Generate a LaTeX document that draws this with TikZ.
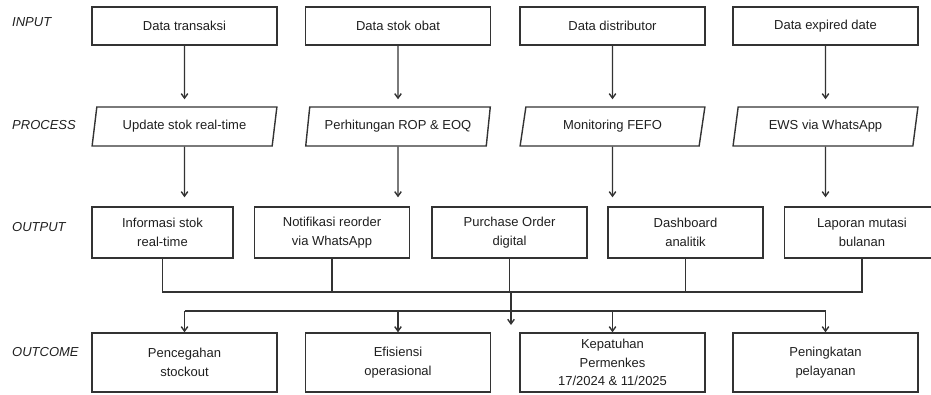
\documentclass[tikz,border=0pt]{standalone}
\usepackage{fontspec}
\setmainfont{Liberation Sans}
\usetikzlibrary{arrows.meta,shapes.geometric}

\begin{document}
\begin{tikzpicture}[x=1pt, y=-1pt, >={Straight Barb[length=4.5pt,width=6.5pt]},
  box/.style={rectangle, draw=black!80, line width=1.4pt, align=center, inner sep=2pt, font=\fontsize{13}{18.5}\selectfont, text=black!88},
  inbox/.style={box, minimum width=185pt, minimum height=38pt},
  proc/.style={box, trapezium, trapezium left angle=78, trapezium right angle=102, trapezium stretches=true, minimum width=185pt, minimum height=39pt},
  outbox/.style={box, minimum width=155pt, minimum height=51pt},
  res/.style={box, minimum width=185pt, minimum height=59pt},
  tag/.style={anchor=west, inner sep=0pt, font=\fontsize{13}{15}\selectfont\itshape, text=black!88},
  edge/.style={->, line width=1.4pt, draw=black!80},
  wire/.style={line width=1.4pt, draw=black!80}
]
\clip (0,0) rectangle (931,394);
\node[tag] (tIn) at (12,22) {INPUT};
\node[tag] (tPr) at (12,125) {PROCESS};
\node[tag] (tOu) at (12,227) {OUTPUT};
\node[tag] (tOc) at (12,352) {OUTCOME};
\node[inbox] (in1) at (184.5,26) {Data transaksi};
\node[inbox] (in2) at (398,26) {Data stok obat};
\node[inbox] (in3) at (612.5,26) {Data distributor};
\node[inbox] (in4) at (825.5,26) {Data expired date};
\node[proc] (pr1) at (184.5,126.5) {Update stok real-time};
\node[proc] (pr2) at (398,126.5) {Perhitungan ROP \& EOQ};
\node[proc] (pr3) at (612.5,126.5) {Monitoring FEFO};
\node[proc] (pr4) at (825.5,126.5) {EWS via WhatsApp};
\node[outbox, minimum width=141pt] (ou1) at (162.5,232.5) {Informasi stok\\real-time};
\node[outbox] (ou2) at (332,232.5) {Notifikasi reorder\\via WhatsApp};
\node[outbox] (ou3) at (509.5,232.5) {Purchase Order\\digital};
\node[outbox] (ou4) at (685.5,232.5) {Dashboard\\analitik};
\node[outbox] (ou5) at (862,232.5) {Laporan mutasi\\bulanan};
\node[res] (oc1) at (184.5,362.5) {Pencegahan\\stockout};
\node[res] (oc2) at (398,362.5) {Efisiensi\\operasional};
\node[res] (oc3) at (612.5,362.5) {Kepatuhan\\Permenkes\\17/2024 \& 11/2025};
\node[res] (oc4) at (825.5,362.5) {Peningkatan\\pelayanan};
\foreach \i in {1,...,4} {
  \draw[edge, shorten >=7pt] (in\i) -- (pr\i);
  \draw[edge, shorten >=9pt] (pr\i) -- (pr\i |- ou1.north);
}
% gather outputs
\coordinate (busL) at (162.5,292);
\coordinate (busR) at (862,292);
\draw[wire] (ou1.south) -- (busL) -- (busR) -- (ou5.south);
\foreach \i in {2,3,4}
  \draw[wire] (ou\i.south) -- (ou\i.south |- busL);
\coordinate (mTop) at (511,292);
\coordinate (mEnd) at (511,325);
\draw[edge] (mTop) -- (mEnd);
% spread to outcomes
\coordinate (distL) at (184.5,311);
\coordinate (distR) at (825.5,311);
\draw[wire] (distL) -- (distR);
\foreach \i in {1,...,4}
  \draw[edge] (oc\i |- distL) -- (oc\i.north);
\end{tikzpicture}
\end{document}
